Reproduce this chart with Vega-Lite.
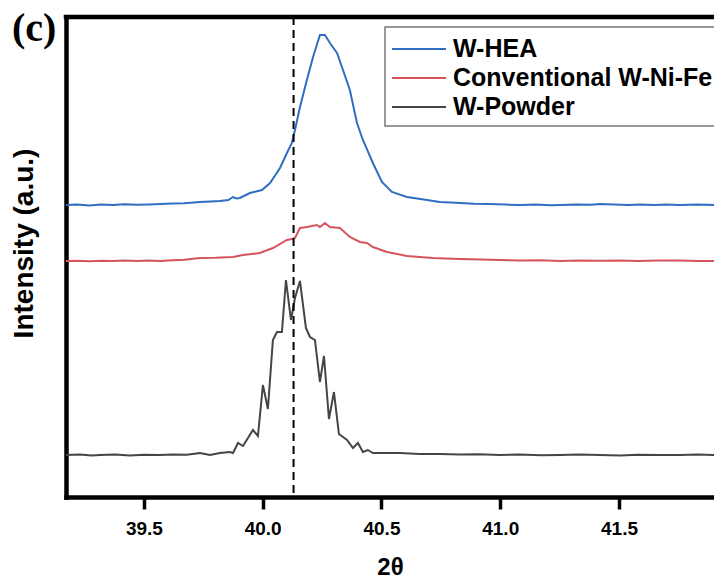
{
  "$schema": "https://vega.github.io/schema/vega-lite/v6.json",
  "autosize": {"type": "none"},
  "padding": {"left": 66, "top": 17, "right": 0, "bottom": 85},
  "width": 648,
  "height": 480,
  "background": "white",
  "config": {"view": {"stroke": null}, "font": "Liberation Sans"},
  "title": {"text": "(c)", "anchor": "start", "frame": "group", "font": "Liberation Serif", "fontSize": 40, "fontWeight": "bold", "color": "black", "baseline": "alphabetic", "dx": -54, "dy": 67, "offset": 0},
  "datasets": {
    "xrd": [
      {"theta": 39.172, "intensity": 292, "sample": "W-HEA"},
      {"theta": 39.22, "intensity": 292.5, "sample": "W-HEA"},
      {"theta": 39.27, "intensity": 291.5, "sample": "W-HEA"},
      {"theta": 39.32, "intensity": 292.5, "sample": "W-HEA"},
      {"theta": 39.37, "intensity": 292, "sample": "W-HEA"},
      {"theta": 39.42, "intensity": 292.8, "sample": "W-HEA"},
      {"theta": 39.47, "intensity": 292.2, "sample": "W-HEA"},
      {"theta": 39.52, "intensity": 292.6, "sample": "W-HEA"},
      {"theta": 39.57, "intensity": 293, "sample": "W-HEA"},
      {"theta": 39.62, "intensity": 293.4, "sample": "W-HEA"},
      {"theta": 39.67, "intensity": 293.8, "sample": "W-HEA"},
      {"theta": 39.71, "intensity": 294.5, "sample": "W-HEA"},
      {"theta": 39.736, "intensity": 295, "sample": "W-HEA"},
      {"theta": 39.78, "intensity": 295.5, "sample": "W-HEA"},
      {"theta": 39.82, "intensity": 296, "sample": "W-HEA"},
      {"theta": 39.855, "intensity": 297, "sample": "W-HEA"},
      {"theta": 39.875, "intensity": 300, "sample": "W-HEA"},
      {"theta": 39.89, "intensity": 298.5, "sample": "W-HEA"},
      {"theta": 39.904, "intensity": 299, "sample": "W-HEA"},
      {"theta": 39.946, "intensity": 304, "sample": "W-HEA"},
      {"theta": 39.997, "intensity": 307, "sample": "W-HEA"},
      {"theta": 40.031, "intensity": 314, "sample": "W-HEA"},
      {"theta": 40.073, "intensity": 329, "sample": "W-HEA"},
      {"theta": 40.102, "intensity": 344, "sample": "W-HEA"},
      {"theta": 40.123, "intensity": 354, "sample": "W-HEA"},
      {"theta": 40.136, "intensity": 367, "sample": "W-HEA"},
      {"theta": 40.157, "intensity": 390, "sample": "W-HEA"},
      {"theta": 40.186, "intensity": 417, "sample": "W-HEA"},
      {"theta": 40.212, "intensity": 440, "sample": "W-HEA"},
      {"theta": 40.241, "intensity": 462, "sample": "W-HEA"},
      {"theta": 40.262, "intensity": 462, "sample": "W-HEA"},
      {"theta": 40.283, "intensity": 454, "sample": "W-HEA"},
      {"theta": 40.313, "intensity": 444, "sample": "W-HEA"},
      {"theta": 40.338, "intensity": 427, "sample": "W-HEA"},
      {"theta": 40.367, "intensity": 407, "sample": "W-HEA"},
      {"theta": 40.397, "intensity": 374, "sample": "W-HEA"},
      {"theta": 40.422, "intensity": 357, "sample": "W-HEA"},
      {"theta": 40.464, "intensity": 334, "sample": "W-HEA"},
      {"theta": 40.502, "intensity": 315, "sample": "W-HEA"},
      {"theta": 40.544, "intensity": 305, "sample": "W-HEA"},
      {"theta": 40.607, "intensity": 300, "sample": "W-HEA"},
      {"theta": 40.65, "intensity": 298.5, "sample": "W-HEA"},
      {"theta": 40.692, "intensity": 297, "sample": "W-HEA"},
      {"theta": 40.746, "intensity": 295, "sample": "W-HEA"},
      {"theta": 40.79, "intensity": 294.5, "sample": "W-HEA"},
      {"theta": 40.831, "intensity": 294, "sample": "W-HEA"},
      {"theta": 40.89, "intensity": 293.2, "sample": "W-HEA"},
      {"theta": 40.957, "intensity": 293, "sample": "W-HEA"},
      {"theta": 41.02, "intensity": 292.4, "sample": "W-HEA"},
      {"theta": 41.083, "intensity": 292, "sample": "W-HEA"},
      {"theta": 41.15, "intensity": 292.5, "sample": "W-HEA"},
      {"theta": 41.21, "intensity": 291.8, "sample": "W-HEA"},
      {"theta": 41.252, "intensity": 292, "sample": "W-HEA"},
      {"theta": 41.32, "intensity": 292.6, "sample": "W-HEA"},
      {"theta": 41.38, "intensity": 292.2, "sample": "W-HEA"},
      {"theta": 41.42, "intensity": 293, "sample": "W-HEA"},
      {"theta": 41.48, "intensity": 292.4, "sample": "W-HEA"},
      {"theta": 41.54, "intensity": 292, "sample": "W-HEA"},
      {"theta": 41.588, "intensity": 292.5, "sample": "W-HEA"},
      {"theta": 41.65, "intensity": 292, "sample": "W-HEA"},
      {"theta": 41.7, "intensity": 292.6, "sample": "W-HEA"},
      {"theta": 41.757, "intensity": 292, "sample": "W-HEA"},
      {"theta": 41.83, "intensity": 292.4, "sample": "W-HEA"},
      {"theta": 41.9, "intensity": 292, "sample": "W-HEA"},

      {"theta": 39.172, "intensity": 236, "sample": "Conventional W-Ni-Fe"},
      {"theta": 39.22, "intensity": 236.3, "sample": "Conventional W-Ni-Fe"},
      {"theta": 39.27, "intensity": 235.8, "sample": "Conventional W-Ni-Fe"},
      {"theta": 39.32, "intensity": 236.2, "sample": "Conventional W-Ni-Fe"},
      {"theta": 39.37, "intensity": 236, "sample": "Conventional W-Ni-Fe"},
      {"theta": 39.42, "intensity": 236.5, "sample": "Conventional W-Ni-Fe"},
      {"theta": 39.47, "intensity": 236, "sample": "Conventional W-Ni-Fe"},
      {"theta": 39.52, "intensity": 236.4, "sample": "Conventional W-Ni-Fe"},
      {"theta": 39.57, "intensity": 236, "sample": "Conventional W-Ni-Fe"},
      {"theta": 39.62, "intensity": 236.8, "sample": "Conventional W-Ni-Fe"},
      {"theta": 39.67, "intensity": 237.2, "sample": "Conventional W-Ni-Fe"},
      {"theta": 39.736, "intensity": 239, "sample": "Conventional W-Ni-Fe"},
      {"theta": 39.8, "intensity": 239.2, "sample": "Conventional W-Ni-Fe"},
      {"theta": 39.875, "intensity": 240, "sample": "Conventional W-Ni-Fe"},
      {"theta": 39.917, "intensity": 242, "sample": "Conventional W-Ni-Fe"},
      {"theta": 39.988, "intensity": 244, "sample": "Conventional W-Ni-Fe"},
      {"theta": 40.043, "intensity": 249, "sample": "Conventional W-Ni-Fe"},
      {"theta": 40.102, "intensity": 257, "sample": "Conventional W-Ni-Fe"},
      {"theta": 40.123, "intensity": 258, "sample": "Conventional W-Ni-Fe"},
      {"theta": 40.136, "intensity": 259, "sample": "Conventional W-Ni-Fe"},
      {"theta": 40.157, "intensity": 269, "sample": "Conventional W-Ni-Fe"},
      {"theta": 40.186, "intensity": 270, "sample": "Conventional W-Ni-Fe"},
      {"theta": 40.228, "intensity": 272, "sample": "Conventional W-Ni-Fe"},
      {"theta": 40.241, "intensity": 270, "sample": "Conventional W-Ni-Fe"},
      {"theta": 40.262, "intensity": 274, "sample": "Conventional W-Ni-Fe"},
      {"theta": 40.283, "intensity": 270, "sample": "Conventional W-Ni-Fe"},
      {"theta": 40.325, "intensity": 269, "sample": "Conventional W-Ni-Fe"},
      {"theta": 40.367, "intensity": 260, "sample": "Conventional W-Ni-Fe"},
      {"theta": 40.409, "intensity": 255, "sample": "Conventional W-Ni-Fe"},
      {"theta": 40.439, "intensity": 254, "sample": "Conventional W-Ni-Fe"},
      {"theta": 40.464, "intensity": 250, "sample": "Conventional W-Ni-Fe"},
      {"theta": 40.523, "intensity": 245, "sample": "Conventional W-Ni-Fe"},
      {"theta": 40.567, "intensity": 243, "sample": "Conventional W-Ni-Fe"},
      {"theta": 40.607, "intensity": 241, "sample": "Conventional W-Ni-Fe"},
      {"theta": 40.66, "intensity": 240, "sample": "Conventional W-Ni-Fe"},
      {"theta": 40.717, "intensity": 239, "sample": "Conventional W-Ni-Fe"},
      {"theta": 40.77, "intensity": 238.5, "sample": "Conventional W-Ni-Fe"},
      {"theta": 40.831, "intensity": 238, "sample": "Conventional W-Ni-Fe"},
      {"theta": 40.92, "intensity": 237.5, "sample": "Conventional W-Ni-Fe"},
      {"theta": 40.999, "intensity": 237, "sample": "Conventional W-Ni-Fe"},
      {"theta": 41.08, "intensity": 236.5, "sample": "Conventional W-Ni-Fe"},
      {"theta": 41.17, "intensity": 236.8, "sample": "Conventional W-Ni-Fe"},
      {"theta": 41.252, "intensity": 236, "sample": "Conventional W-Ni-Fe"},
      {"theta": 41.33, "intensity": 236.5, "sample": "Conventional W-Ni-Fe"},
      {"theta": 41.42, "intensity": 236.2, "sample": "Conventional W-Ni-Fe"},
      {"theta": 41.504, "intensity": 236.5, "sample": "Conventional W-Ni-Fe"},
      {"theta": 41.58, "intensity": 236, "sample": "Conventional W-Ni-Fe"},
      {"theta": 41.67, "intensity": 236.6, "sample": "Conventional W-Ni-Fe"},
      {"theta": 41.757, "intensity": 236.5, "sample": "Conventional W-Ni-Fe"},
      {"theta": 41.83, "intensity": 236, "sample": "Conventional W-Ni-Fe"},
      {"theta": 41.9, "intensity": 236, "sample": "Conventional W-Ni-Fe"},

      {"theta": 39.172, "intensity": 42, "sample": "W-Powder"},
      {"theta": 39.23, "intensity": 42.5, "sample": "W-Powder"},
      {"theta": 39.28, "intensity": 41.5, "sample": "W-Powder"},
      {"theta": 39.315, "intensity": 42, "sample": "W-Powder"},
      {"theta": 39.38, "intensity": 42.4, "sample": "W-Powder"},
      {"theta": 39.441, "intensity": 41.5, "sample": "W-Powder"},
      {"theta": 39.5, "intensity": 42.2, "sample": "W-Powder"},
      {"theta": 39.567, "intensity": 42, "sample": "W-Powder"},
      {"theta": 39.62, "intensity": 42.6, "sample": "W-Powder"},
      {"theta": 39.68, "intensity": 42.2, "sample": "W-Powder"},
      {"theta": 39.736, "intensity": 44, "sample": "W-Powder"},
      {"theta": 39.778, "intensity": 42, "sample": "W-Powder"},
      {"theta": 39.82, "intensity": 44, "sample": "W-Powder"},
      {"theta": 39.862, "intensity": 45, "sample": "W-Powder"},
      {"theta": 39.875, "intensity": 44, "sample": "W-Powder"},
      {"theta": 39.896, "intensity": 54, "sample": "W-Powder"},
      {"theta": 39.917, "intensity": 51, "sample": "W-Powder"},
      {"theta": 39.938, "intensity": 59, "sample": "W-Powder"},
      {"theta": 39.959, "intensity": 67, "sample": "W-Powder"},
      {"theta": 39.98, "intensity": 61, "sample": "W-Powder"},
      {"theta": 40.001, "intensity": 112, "sample": "W-Powder"},
      {"theta": 40.022, "intensity": 88, "sample": "W-Powder"},
      {"theta": 40.043, "intensity": 157, "sample": "W-Powder"},
      {"theta": 40.06, "intensity": 165, "sample": "W-Powder"},
      {"theta": 40.081, "intensity": 165, "sample": "W-Powder"},
      {"theta": 40.098, "intensity": 217, "sample": "W-Powder"},
      {"theta": 40.119, "intensity": 177, "sample": "W-Powder"},
      {"theta": 40.136, "intensity": 199, "sample": "W-Powder"},
      {"theta": 40.157, "intensity": 216, "sample": "W-Powder"},
      {"theta": 40.182, "intensity": 169, "sample": "W-Powder"},
      {"theta": 40.199, "intensity": 160, "sample": "W-Powder"},
      {"theta": 40.22, "intensity": 157, "sample": "W-Powder"},
      {"theta": 40.241, "intensity": 115, "sample": "W-Powder"},
      {"theta": 40.258, "intensity": 141, "sample": "W-Powder"},
      {"theta": 40.279, "intensity": 78, "sample": "W-Powder"},
      {"theta": 40.3, "intensity": 105, "sample": "W-Powder"},
      {"theta": 40.321, "intensity": 63, "sample": "W-Powder"},
      {"theta": 40.355, "intensity": 57, "sample": "W-Powder"},
      {"theta": 40.38, "intensity": 49, "sample": "W-Powder"},
      {"theta": 40.401, "intensity": 54, "sample": "W-Powder"},
      {"theta": 40.422, "intensity": 45, "sample": "W-Powder"},
      {"theta": 40.443, "intensity": 47, "sample": "W-Powder"},
      {"theta": 40.464, "intensity": 44, "sample": "W-Powder"},
      {"theta": 40.523, "intensity": 44, "sample": "W-Powder"},
      {"theta": 40.578, "intensity": 44, "sample": "W-Powder"},
      {"theta": 40.66, "intensity": 43, "sample": "W-Powder"},
      {"theta": 40.746, "intensity": 43, "sample": "W-Powder"},
      {"theta": 40.83, "intensity": 42.4, "sample": "W-Powder"},
      {"theta": 40.91, "intensity": 42.8, "sample": "W-Powder"},
      {"theta": 40.999, "intensity": 42, "sample": "W-Powder"},
      {"theta": 41.08, "intensity": 42.5, "sample": "W-Powder"},
      {"theta": 41.17, "intensity": 41.8, "sample": "W-Powder"},
      {"theta": 41.252, "intensity": 42, "sample": "W-Powder"},
      {"theta": 41.33, "intensity": 42.5, "sample": "W-Powder"},
      {"theta": 41.42, "intensity": 42, "sample": "W-Powder"},
      {"theta": 41.504, "intensity": 41.5, "sample": "W-Powder"},
      {"theta": 41.58, "intensity": 42.3, "sample": "W-Powder"},
      {"theta": 41.67, "intensity": 42, "sample": "W-Powder"},
      {"theta": 41.757, "intensity": 42, "sample": "W-Powder"},
      {"theta": 41.83, "intensity": 42.4, "sample": "W-Powder"},
      {"theta": 41.9, "intensity": 42, "sample": "W-Powder"}
    ]
  },
  "layer": [
    {
      "data": {"name": "xrd"},
      "mark": {"type": "line", "strokeWidth": 2},
      "encoding": {
        "x": {
          "field": "theta", "type": "quantitative",
          "scale": {"domain": [39.172, 41.9], "nice": false, "zero": false},
          "axis": {
            "values": [39.5, 40, 40.5, 41, 41.5], "format": ".1f", "grid": false,
            "domainColor": "black", "domainWidth": 4.5, "domainCap": "square",
            "tickColor": "black", "tickWidth": 3.5, "tickSize": 12,
            "labelFont": "Liberation Sans", "labelFontSize": 19, "labelFontWeight": "bold", "labelColor": "black", "labelPadding": 10,
            "title": "2θ", "titleFont": "Liberation Sans", "titleFontSize": 24, "titleFontWeight": "bold", "titleColor": "black", "titlePadding": 17
          }
        },
        "y": {
          "field": "intensity", "type": "quantitative",
          "scale": {"domain": [0, 480], "nice": false},
          "axis": {
            "ticks": false, "labels": false, "grid": false,
            "domainColor": "black", "domainWidth": 4.5, "domainCap": "square",
            "title": "Intensity (a.u.)", "titleFont": "Liberation Sans", "titleFontSize": 28, "titleFontWeight": "bold", "titleColor": "black", "titlePadding": 28, "titleY": 226
          }
        },
        "color": {
          "field": "sample", "type": "nominal",
          "scale": {"domain": ["W-HEA", "Conventional W-Ni-Fe", "W-Powder"], "range": ["#2f6ec0", "#d5545e", "#454545"]},
          "legend": {
            "orient": "none", "legendX": 319, "legendY": 10, "title": null,
            "symbolType": "M-1,0L2.6,0", "symbolSize": 900, "symbolStrokeWidth": 2,
            "labelFont": "Liberation Sans", "labelFontSize": 25, "labelFontWeight": "bold", "labelColor": "black",
            "labelOffset": 30, "labelLimit": 0, "rowPadding": 0, "padding": 6,
            "strokeColor": "#777777", "fillColor": "white",
            "encode": {"legend": {"update": {"strokeWidth": {"value": 1.5}}}}
          }
        }
      }
    },
    {
      "data": {"values": [{"pos": 40.13}]},
      "mark": {"type": "rule", "strokeDash": [8, 5], "strokeWidth": 2, "color": "black"},
      "encoding": {"x": {"field": "pos", "type": "quantitative"}}
    },
    {
      "data": {"values": [{"top": 480}]},
      "mark": {"type": "rule", "strokeWidth": 4.5, "color": "black", "strokeCap": "square"},
      "encoding": {"y": {"field": "top", "type": "quantitative"}}
    }
  ]
}
